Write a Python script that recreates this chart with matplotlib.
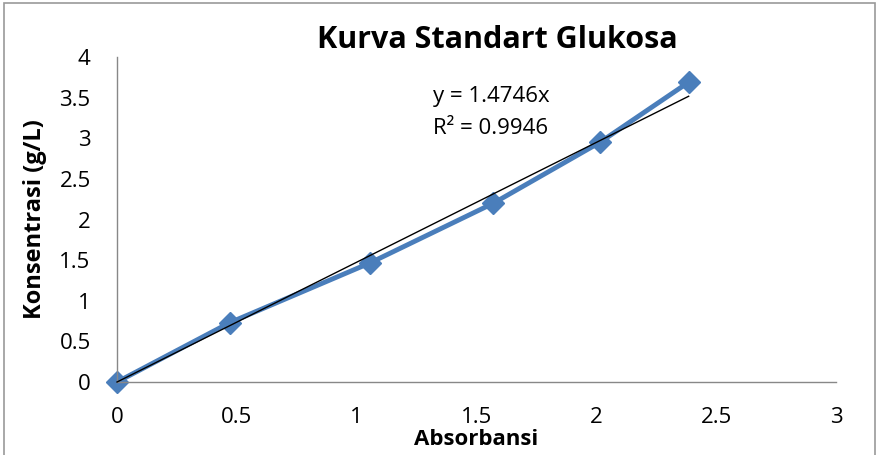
import numpy as np
import matplotlib
matplotlib.use('Agg')
import matplotlib.pyplot as plt
from matplotlib.patches import Rectangle

plt.rcParams['font.family'] = ['Open Sans', 'DejaVu Sans']

# data
absorbansi = [0, 0.47, 1.055, 1.57, 2.015, 2.385]
konsentrasi = [0, 0.73, 1.465, 2.2, 2.95, 3.69]
slope = 1.4746
r2 = 0.9946

fig = plt.figure(figsize=(8.78, 4.55), dpi=100)
ax = fig.add_axes([0.1333, 0.1604, 0.8189, 0.7143])

blue = '#4A7EBB'
ax.plot(absorbansi, konsentrasi, color=blue, lw=3.5, marker='D', ms=11,
        mfc=blue, mec=blue, zorder=2, clip_on=False)

# linear trendline through origin
xt = np.array([0, absorbansi[-1]])
ax.plot(xt, slope * xt, color='black', lw=1, zorder=3, clip_on=False)

ax.set_xlim(0, 3)
ax.set_ylim(0, 4)
ax.set_xticks(np.arange(0, 3.01, 0.5))
ax.set_yticks(np.arange(0, 4.01, 0.5))
ax.set_xticklabels(['0', '0.5', '1', '1.5', '2', '2.5', '3'])
ax.set_yticklabels(['0', '0.5', '1', '1.5', '2', '2.5', '3', '3.5', '4'])
ax.tick_params(length=0, labelsize=16)
ax.tick_params(axis='x', pad=18)
ax.tick_params(axis='y', pad=19)

for s in ['top', 'right']:
    ax.spines[s].set_visible(False)
for s in ['left', 'bottom']:
    ax.spines[s].set_color('#888888')
    ax.spines[s].set_linewidth(1)

fig.text(0.566, 0.912, 'Kurva Standart Glukosa', ha='center', va='center',
         fontsize=22, fontweight='bold')
ax.set_xlabel('Absorbansi', fontsize=16, fontweight='bold', labelpad=1)
ax.set_ylabel('Konsentrasi (g/L)', fontsize=17, fontweight='bold', labelpad=9)

ax.text(1.32, 3.51, 'y = 1.4746x', fontsize=16, va='center')
ax.text(1.32, 3.12, 'R² = 0.9946', fontsize=16, va='center')

fig.patches.append(Rectangle((0.005, -0.01), 0.992, 1.003, transform=fig.transFigure,
                             fill=False, edgecolor='#999999', lw=1.2))

fig.savefig('out.png', dpi=100)
